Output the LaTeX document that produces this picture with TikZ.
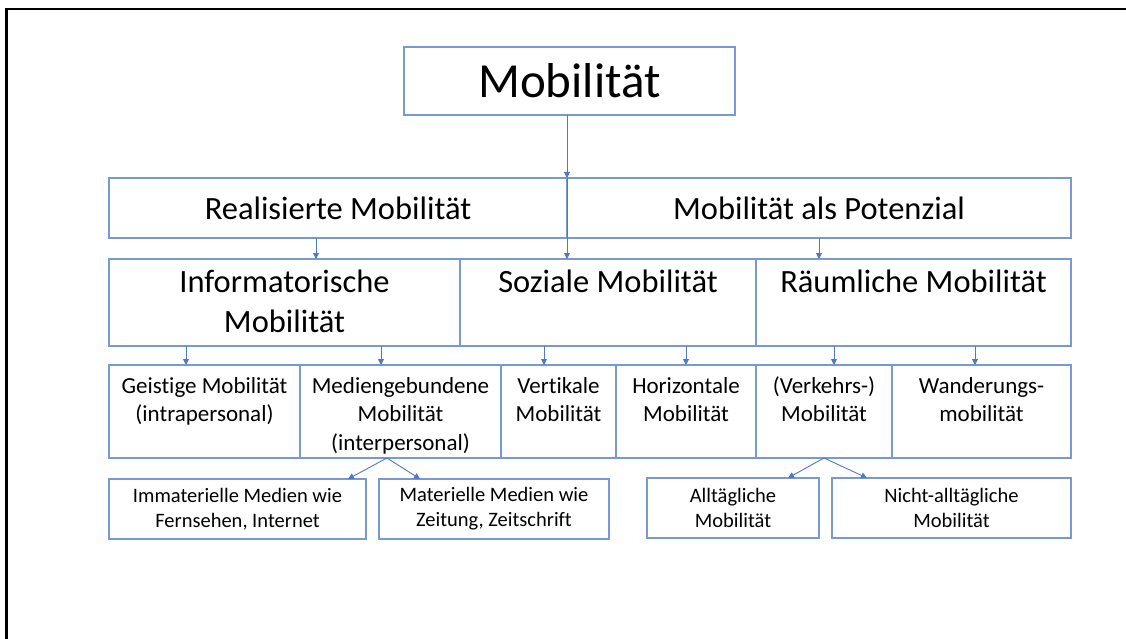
\documentclass[tikz,border=0pt]{standalone}
\usepackage{fontspec}
\setmainfont{Carlito}[Ligatures={NoCommon,NoContextual}]
\usetikzlibrary{arrows.meta,calc}
\definecolor{boxblue}{RGB}{120,152,214}
\definecolor{arrblue}{RGB}{80,120,200}
\begin{document}
\begin{tikzpicture}[x=1pt,y=-1pt,
  box/.style={draw=boxblue, line width=1.4pt, inner sep=0pt, outer sep=0pt, align=center, text=black},
  arr/.style={draw=arrblue, line width=0.9pt, -{Triangle[length=6pt,width=6pt]}},
  fa/.style={font=\fontsize{49}{59}\selectfont},
  fb/.style={font=\fontsize{32.5}{40}\selectfont},
  fd/.style={font=\fontsize{23}{28.5}\selectfont},
  fe/.style={font=\fontsize{20.5}{25}\selectfont},
  lab/.style={anchor=north, align=center, inner sep=0pt, text=black}]
\useasboundingbox (0,0) rectangle (1126,639);
\fill[white] (0,0) rectangle (1126,639);
% frame
\draw[line width=2.2pt, black] (6.5,639) -- (6.5,9) -- (1126,9);

% level 1
\node[box, fa, minimum width=331pt, minimum height=68pt] (mob) at (569.5,81) {Mobilität};

% level 2
\node[box, fb, minimum width=458pt, minimum height=60pt] (realis) at (338,208) {Realisierte Mobilität};
\node[box, fb, minimum width=504pt, minimum height=60pt] (poten) at (819,208) {Mobilität als Potenzial};

% level 3
\node[box, minimum width=351pt, minimum height=87pt] (info) at (284.5,302.5) {};
\node[box, minimum width=296pt, minimum height=87pt] (sozial) at (608,302.5) {};
\node[box, minimum width=315pt, minimum height=87pt] (raum) at (913.5,302.5) {};
\node[lab, fb] (infot) at ([yshift=-5pt]info.north) {\strut Informatorische\\Mobilität};
\node[lab, fb] (sozialt) at ([yshift=-5pt]sozial.north) {\strut Soziale Mobilität};
\node[lab, fb] (raumt) at ([yshift=-5pt]raum.north) {\strut Räumliche Mobilität};

% level 4
\node[box, minimum width=191pt, minimum height=93pt] (geist) at (204.5,411.5) {};
\node[box, minimum width=201pt, minimum height=93pt] (medien) at (400.5,411.5) {};
\node[box, minimum width=115pt, minimum height=93pt] (vert) at (558.5,411.5) {};
\node[box, minimum width=140pt, minimum height=93pt] (horiz) at (686,411.5) {};
\node[box, minimum width=136pt, minimum height=93pt] (verk) at (824,411.5) {};
\node[box, minimum width=179pt, minimum height=93pt] (wand) at (981.5,411.5) {};
\node[lab, fd] (geistt) at ([yshift=-8pt]geist.north) {\strut Geistige Mobilität\\(intrapersonal)};
\node[lab, fd] (mediant) at ([yshift=-8pt]medien.north) {\strut Mediengebundene\\Mobilität\\(interpersonal)};
\node[lab, fd] (vertt) at ([yshift=-8pt]vert.north) {\strut Vertikale\\Mobilität};
\node[lab, fd] (horizt) at ([yshift=-8pt]horiz.north) {\strut Horizontale\\Mobilität};
\node[lab, fd] (verkt) at ([yshift=-8pt]verk.north) {\strut (Verkehrs-)\\Mobilität};
\node[lab, fd] (wandt) at ([yshift=-8pt]wand.north) {\strut Wanderungs-\\mobilität};

% level 5
\node[box, fe, minimum width=257pt, minimum height=60pt] (immat) at (237.5,509) {Immaterielle Medien wie\\Fernsehen, Internet};
\node[box, fe, minimum width=230pt, minimum height=60pt] (mat) at (494,509) {Materielle Medien wie\\Zeitung, Zeitschrift};
\node[box, fe, minimum width=172pt, minimum height=60pt] (allt) at (733,508) {Alltägliche\\Mobilität};
\node[box, fe, minimum width=239pt, minimum height=60pt] (nicht) at (951.5,508) {Nicht-alltägliche\\Mobilität};

% connectors
\draw[arr] ([xshift=-2.5pt]mob.south) -- (realis.north east);
\draw[arr] (realis.north east) -- ([xshift=-41pt]sozial.north);
\draw[arr] ([xshift=-22pt]realis.south) -- ([xshift=31.5pt]info.north);
\draw[arr] (poten.south) -- ([xshift=-94.5pt]raum.north);
\draw[arr] ([xshift=-98.5pt]info.south) -- ([xshift=-18.5pt]geist.north);
\draw[arr] ([xshift=96.5pt]info.south) -- ([xshift=-19.5pt]medien.north);
\draw[arr] ([xshift=-64pt]sozial.south) -- ([xshift=-14.5pt]vert.north);
\draw[arr] ([xshift=78pt]sozial.south) -- (horiz.north);
\draw[arr] ([xshift=-79.5pt]raum.south) -- ([xshift=10pt]verk.north);
\draw[arr] ([xshift=61.5pt]raum.south) -- ([xshift=-6.5pt]wand.north);
\draw[arr] ([xshift=-13.5pt]medien.south) -- ([xshift=110.5pt]immat.north);
\draw[arr] ([xshift=-13.5pt]medien.south) -- ([xshift=-74pt]mat.north);
\draw[arr] (verk.south) -- ([xshift=55pt]allt.north);
\draw[arr] (verk.south) -- ([xshift=-84.5pt]nicht.north);
\end{tikzpicture}
\end{document}
